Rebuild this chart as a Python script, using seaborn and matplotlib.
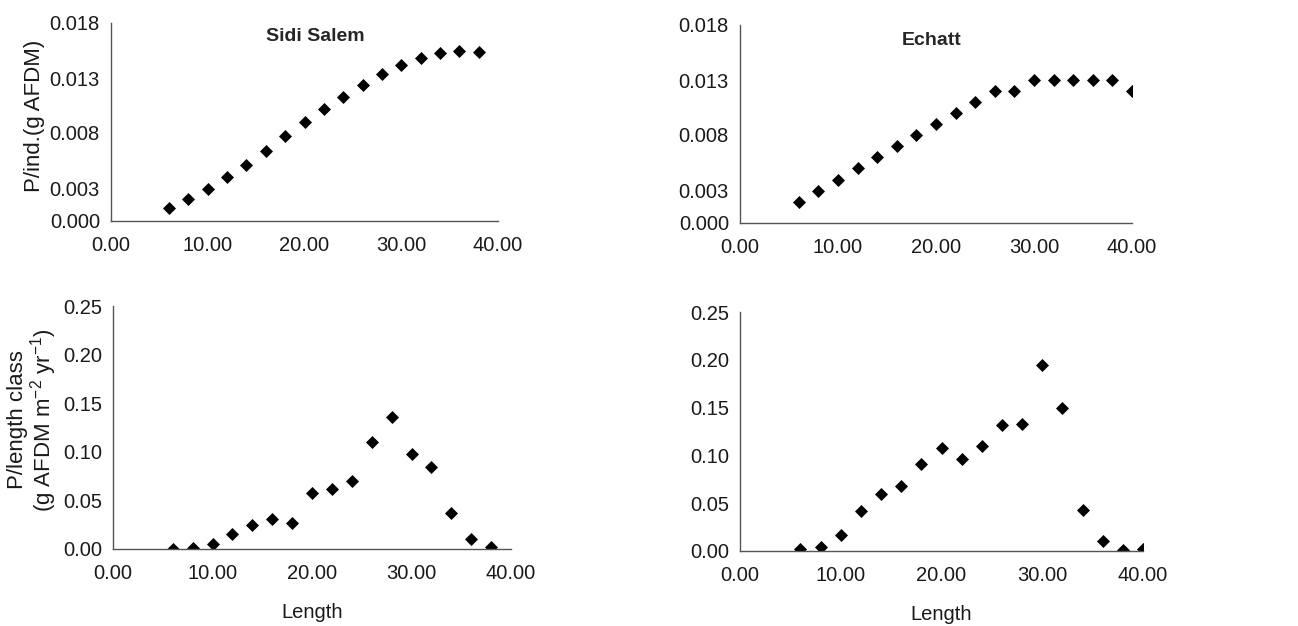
import pandas as pd
import numpy as np
import matplotlib.pyplot as plt
import seaborn as sns
from matplotlib.ticker import FormatStrFormatter

# Data
length_sidi = [6, 8, 10, 12, 14, 16, 18, 20, 22, 24, 26, 28, 30, 32, 34, 36, 38]
pind_sidi = [0.0012, 0.0020, 0.0029, 0.0040, 0.0051, 0.0064, 0.0077, 0.0090,
             0.0102, 0.0113, 0.0124, 0.0134, 0.0142, 0.0148, 0.0153, 0.0155, 0.0154]
pclass_sidi = [0.000, 0.0014, 0.005, 0.015, 0.025, 0.031, 0.027, 0.058,
               0.062, 0.070, 0.110, 0.136, 0.098, 0.084, 0.037, 0.010, 0.002]

length_echatt = [6, 8, 10, 12, 14, 16, 18, 20, 22, 24, 26, 28, 30, 32, 34, 36, 38, 40]
pind_echatt = [0.0019, 0.0029, 0.0039, 0.0050, 0.0060, 0.0070, 0.0080, 0.0090,
               0.0100, 0.0110, 0.0120, 0.0120, 0.0130, 0.0130, 0.0130, 0.0130, 0.0130, 0.0120]
pclass_echatt = [0.002, 0.004, 0.017, 0.042, 0.060, 0.068, 0.091, 0.108,
                 0.096, 0.110, 0.132, 0.133, 0.195, 0.150, 0.043, 0.010, 0.001, 0.002]

sidi = pd.DataFrame({'Length': length_sidi, 'Pind': pind_sidi, 'Pclass': pclass_sidi})
echatt = pd.DataFrame({'Length': length_echatt, 'Pind': pind_echatt, 'Pclass': pclass_echatt})

sns.set_style('white')
plt.rcParams['font.family'] = ['Liberation Sans', 'DejaVu Sans']
plt.rcParams['mathtext.fontset'] = 'custom'
plt.rcParams['mathtext.rm'] = 'Liberation Sans'
plt.rcParams['mathtext.it'] = 'Liberation Sans'

W, H = 1298, 626
fig = plt.figure(figsize=(W / 100, H / 100), dpi=100)


def make_ax(l, r, t, b):
    return fig.add_axes([l / W, 1 - b / H, (r - l) / W, (b - t) / H])


ax_tl = make_ax(111, 498, 23, 221)
ax_tr = make_ax(740, 1132, 25, 223)
ax_bl = make_ax(113, 511, 306, 549)
ax_br = make_ax(740, 1143, 312, 551)

mk = dict(marker='D', color='black', s=44, linewidth=0)
sns.scatterplot(ax=ax_tl, data=sidi, x='Length', y='Pind', **mk)
sns.scatterplot(ax=ax_tr, data=echatt, x='Length', y='Pind', **mk)
sns.scatterplot(ax=ax_bl, data=sidi, x='Length', y='Pclass', **mk)
sns.scatterplot(ax=ax_br, data=echatt, x='Length', y='Pclass', **mk)

for ax in (ax_tl, ax_tr, ax_bl, ax_br):
    ax.set_xlim(0, 40)
    ax.set_xticks([0, 10, 20, 30, 40])
    ax.xaxis.set_major_formatter(FormatStrFormatter('%.2f'))
    sns.despine(ax=ax)
    for s in ('left', 'bottom'):
        ax.spines[s].set_color('#555555')
        ax.spines[s].set_linewidth(1.0)
    ax.tick_params(axis='both', which='major', length=4, width=1, color='#555555',
                   labelsize=14.5, labelcolor='#1a1a1a', direction='out', pad=4)
    ax.tick_params(axis='x', pad=7)
    ax.set_xlabel('')
    ax.set_ylabel('')

for ax in (ax_tl, ax_tr):
    ax.set_ylim(0, 0.018)
    ax.set_yticks([0, 0.003, 0.008, 0.013, 0.018])
    ax.yaxis.set_major_formatter(FormatStrFormatter('%.3f'))

for ax in (ax_bl, ax_br):
    ax.set_ylim(0, 0.25)
    ax.set_yticks([0, 0.05, 0.10, 0.15, 0.20, 0.25])
    ax.yaxis.set_major_formatter(FormatStrFormatter('%.2f'))
    ax.set_xlabel('Length', fontsize=14.5, color='#1a1a1a', labelpad=14)

ax_tl.text(0.527, 0.93, 'Sidi Salem', transform=ax_tl.transAxes, ha='center', va='center',
           fontsize=14, fontweight='bold')
ax_tr.text(0.49, 0.92, 'Echatt', transform=ax_tr.transAxes, ha='center', va='center',
           fontsize=14, fontweight='bold')

# y labels placed by hand, they sit tight against the tick labels
fig.text(35 / W, 1 - 116 / H, 'P/ind.(g AFDM)', rotation=90, ha='center', va='center',
         fontsize=16, color='#1a1a1a')
fig.text(33 / W, 1 - 420 / H, 'P/length class\n(g AFDM m$^{-2}$ yr$^{-1}$)', rotation=90,
         ha='center', va='center', fontsize=16, color='#1a1a1a', linespacing=1.0,
         multialignment='center')

fig.savefig('out.png', dpi=100)
